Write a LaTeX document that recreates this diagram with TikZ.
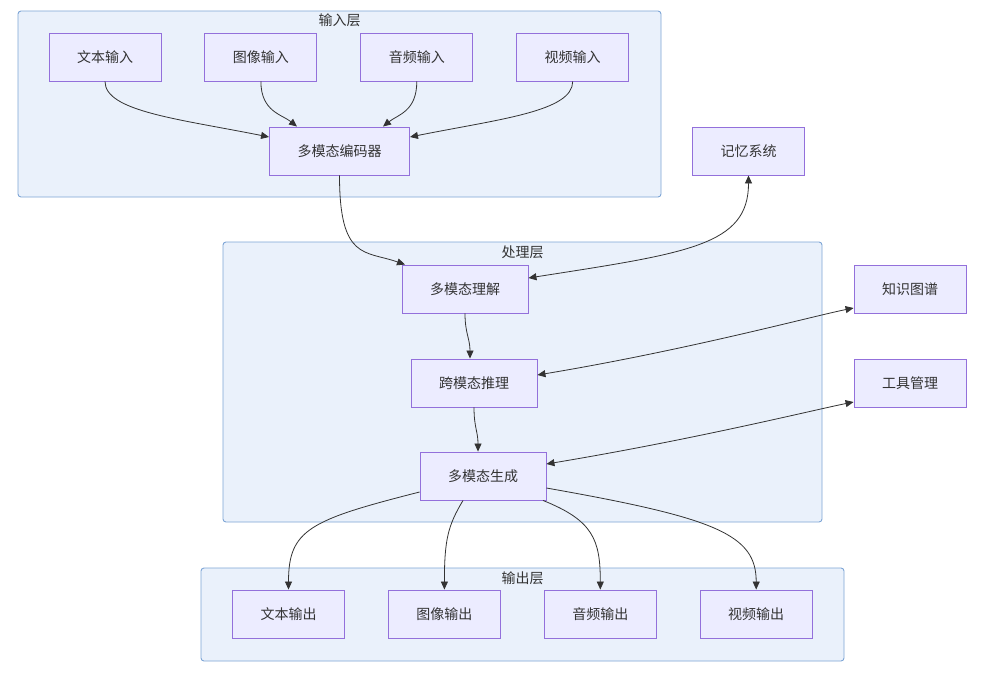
\documentclass[tikz,border=0pt]{standalone}
\usepackage{fontspec}
\setmainfont{Noto Sans CJK SC}
\usepackage{xcolor}
\usetikzlibrary{arrows.meta, positioning}

\definecolor{nodefill}{HTML}{ECECFF}
\definecolor{nodeline}{HTML}{9370DB}
\definecolor{layerfill}{HTML}{EAF1FB}
\definecolor{layerline}{HTML}{7DA5D6}
\definecolor{edgeline}{HTML}{333333}

\begin{document}
\begin{tikzpicture}[
    x=1pt, y=-1pt,
    node distance=43pt,
    block/.style={rectangle, draw=nodeline, fill=nodefill, line width=0.9pt, minimum height=48pt, inner xsep=28pt, text=edgeline, font=\fontsize{14pt}{17pt}\selectfont},
    layer/.style={rectangle, draw=layerline, fill=layerfill, line width=0.9pt, rounded corners=3pt, inner sep=0pt},
    title/.style={anchor=north, inner sep=0pt, text=edgeline, font=\fontsize{14pt}{17pt}\selectfont},
    arrow/.style={-{Triangle[length=8pt, width=7pt]}, draw=edgeline, line width=0.8pt},
    twoway/.style={{Triangle[length=8pt, width=7pt]}-{Triangle[length=8pt, width=7pt]}, draw=edgeline, line width=0.8pt},
]
    \fill[white] (0,0) rectangle (981,681);

    % Layers
    \node[layer, minimum width=643pt, minimum height=186pt] (inlayer) at (339.5,104) {};
    \node[title] (intitle) at (339.5,13.5) {输入层};
    \node[layer, minimum width=599pt, minimum height=280pt] (proclayer) at (522.5,382) {};
    \node[title] (proctitle) at (522.5,245.5) {处理层};
    \node[layer, minimum width=643pt, minimum height=93pt] (outlayer) at (522.5,614.5) {};
    \node[title] (outtitle) at (522.5,571.5) {输出层};

    % Input layer
    \node[block] (textin) at (105,57) {文本输入};
    \node[block, right=of textin] (imgin) {图像输入};
    \node[block, right=of imgin] (audin) {音频输入};
    \node[block, right=of audin] (vidin) {视频输入};
    \node[block] (encoder) at (339.5,151) {多模态编码器};

    % Processing layer
    \node[block] (underst) at (465,289) {多模态理解};
    \node[block] (reason) at (474,383) {跨模态推理};
    \node[block] (generate) at (483,476) {多模态生成};

    % Side modules
    \node[block] (memory) at (748.5,151) {记忆系统};
    \node[block] (knowledge) at (910,289) {知识图谱};
    \node[block] (tools) at (910,383) {工具管理};

    % Output layer
    \node[block] (textout) at (288.5,614) {文本输出};
    \node[block, right=of textout] (imgout) {图像输出};
    \node[block, right=of imgout] (audout) {音频输出};
    \node[block, right=of audout] (vidout) {视频输出};

    % Arrows
    \draw[arrow] (textin.south) .. controls +(0,30) and +(-90,-18) .. ([yshift=14pt]encoder.west);
    \draw[arrow] (imgin.south) .. controls +(0,30) and +(-15,-12) .. ([xshift=-42.5pt]encoder.north);
    \draw[arrow] (audin.south) .. controls +(0,30) and +(15,-12) .. ([xshift=43.5pt]encoder.north);
    \draw[arrow] (vidin.south) .. controls +(0,30) and +(90,-18) .. ([yshift=14pt]encoder.east);
    \draw[arrow] (encoder.south) .. controls +(0,85) and +(-40,-14) .. ([xshift=-60pt]underst.north);
    \draw[twoway] ([yshift=11pt]underst.east) .. controls +(160,-25) and +(0,70) .. (memory.south);
    \draw[arrow] (underst.south) .. controls +(0,20) and +(0,-20) .. ([xshift=-4pt]reason.north);
    \draw[twoway] ([yshift=8pt]reason.east) .. controls +(150,-25) and +(-40,8) .. ([yshift=-19pt]knowledge.west);
    \draw[arrow] (reason.south) .. controls +(0,20) and +(0,-20) .. ([xshift=-5pt]generate.north);
    \draw[twoway] ([yshift=12pt]generate.east) .. controls +(150,-25) and +(-40,8) .. ([yshift=-19pt]tools.west);
    \draw[arrow] ([yshift=-16pt]generate.west) .. controls +(-110,28) and +(0,-60) .. (textout.north);
    \draw[arrow] ([xshift=-20pt]generate.south) .. controls +(-15,25) and +(0,-50) .. (imgout.north);
    \draw[arrow] ([xshift=60pt]generate.south) .. controls +(50,20) and +(0,-50) .. (audout.north);
    \draw[arrow] ([yshift=-12pt]generate.east) .. controls +(170,30) and +(0,-55) .. (vidout.north);
\end{tikzpicture}
\end{document}
